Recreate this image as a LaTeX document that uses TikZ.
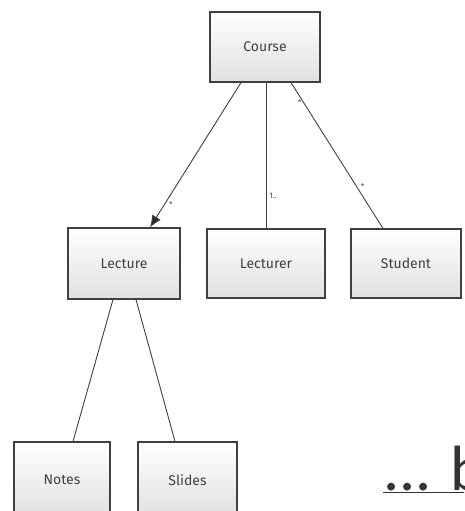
\documentclass[tikz,border=0pt]{standalone}
\usepackage{fontspec}
\setmainfont{Carlito}
\newfontfamily\handfont{Fira Sans}
\usetikzlibrary{arrows.meta}
\begin{document}
\begin{tikzpicture}[x=1pt,y=-1pt,
  classbox/.style={draw=black!75, line width=1.1pt, top color=white, bottom color=black!12,
    shading angle=0, inner sep=0pt, font=\handfont\fontsize{14}{16}\selectfont, text=black!75},
  link/.style={draw=black!75, line width=0.9pt},
  mult/.style={font=\handfont\fontsize{8}{9}\selectfont, text=black!70, inner sep=1pt}]
  \useasboundingbox (0,0) rectangle (464,511);
  \clip (0,0) rectangle (464,511);

  % class boxes
  \node[classbox, minimum width=110pt, minimum height=70pt] (course) at (265,47) {Course};
  \node[classbox, minimum width=112pt, minimum height=71pt] (lecture) at (124,263.5) {Lecture};
  \node[classbox, minimum width=118pt, minimum height=69pt] (lecturer) at (266,263.5) {Lecturer};
  \node[classbox, minimum width=110pt, minimum height=69pt] (student) at (406,263.5) {Student};
  \node[classbox, minimum width=96pt, minimum height=76pt] (notes) at (62,480) {Notes};
  \node[classbox, minimum width=99pt, minimum height=76pt] (slides) at (187.5,480) {Slides};

  % associations
  \draw[link, -{Latex[length=12pt,width=10pt,fill=black!85]}] ([xshift=-24pt]course.south) -- ([xshift=26pt]lecture.north)
    node[mult, pos=0.84, right=3pt] {*};
  \draw[link] ([xshift=1pt]course.south) -- (lecturer.north)
    node[mult, pos=0.78, right=2pt] {1..};
  \draw[link] ([xshift=26pt]course.south) -- ([xshift=-23pt]student.north)
    node[mult, pos=0.14, left=1pt] {*}
    node[mult, pos=0.71, right=3pt] {*};
  \draw[link] ([xshift=-11pt]lecture.south) -- ([xshift=11pt]notes.north);
  \draw[link] ([xshift=12pt]lecture.south) -- ([xshift=-12.5pt]slides.north);

  % heading fragment at the lower right
  \node[anchor=base west, inner sep=0pt, font=\fontsize{64}{70}\selectfont, text=black!80] (more) at (383,490) {\underline{... b}};
\end{tikzpicture}
\end{document}
